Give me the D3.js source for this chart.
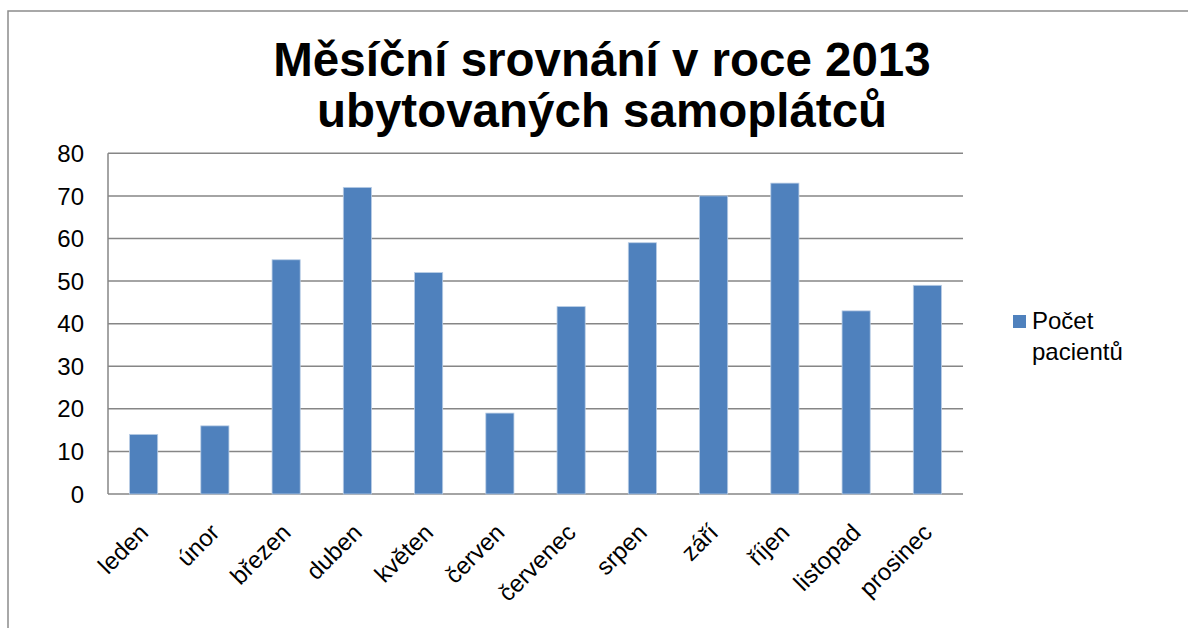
<!DOCTYPE html>
<html><head><meta charset="utf-8">
<script src="https://cdn.jsdelivr.net/npm/d3@7"></script>
<style>body{margin:0;background:#fff}svg{display:block;font-family:"Liberation Sans",Arial,sans-serif}</style>
</head><body>
<svg id="c" width="1188" height="628"></svg>
<script>
const categories = ["leden","únor","březen","duben","květen","červen","červenec","srpen","září","říjen","listopad","prosinec"];
const values = [14,16,55,72,52,19,44,59,70,73,43,49];
const yTicks = [0,10,20,30,40,50,60,70,80];
const titleLines = ["Měsíční srovnání v roce 2013","ubytovaných samoplátců"];
const seriesName = ["Počet","pacientů"];

const svg = d3.select("#c");
svg.append("rect").attr("x",8).attr("y",11).attr("width",1200).attr("height",640)
  .attr("fill","#fff").attr("stroke","#8c8c8c").attr("stroke-width",1.5);

const m = {l:108, r:963, t:153.3, b:494};
const x = d3.scaleBand().domain(categories).range([m.l,m.r]).paddingInner(0.605).paddingOuter(0.3025);
const y = d3.scaleLinear().domain([0,80]).range([m.b,m.t]);

// gridlines
svg.append("g").selectAll("line").data(yTicks).join("line")
  .attr("x1",m.l).attr("x2",m.r).attr("y1",d=>y(d)).attr("y2",d=>y(d))
  .attr("stroke","#868686").attr("stroke-width",1.5);
// y axis line
svg.append("line").attr("x1",m.l).attr("x2",m.l).attr("y1",m.t).attr("y2",m.b)
  .attr("stroke","#868686").attr("stroke-width",1.5);

// y labels
svg.append("g").selectAll("text").data(yTicks).join("text")
  .attr("x",84).attr("y",d=>y(d)).attr("dy","0.36em").attr("text-anchor","end")
  .attr("font-size",24).attr("fill","#000").text(d=>d);

// bars
svg.append("g").selectAll("rect").data(values).join("rect")
  .attr("x",(d,i)=>x(categories[i])).attr("width",x.bandwidth())
  .attr("y",d=>y(d)).attr("height",d=>y(0)-y(d))
  .attr("fill","#4F81BD").attr("stroke","#b9cde5").attr("stroke-width",0.8);

// x labels
svg.append("g").selectAll("text").data(categories).join("text")
  .attr("transform",d=>`translate(${x(d)+x.bandwidth()/2+6},${m.b+40}) rotate(-45)`)
  .attr("text-anchor","end").attr("font-size",24).attr("fill","#000").text(d=>d);

// title
svg.append("g").selectAll("text").data(titleLines).join("text")
  .attr("x",602).attr("y",(d,i)=>76+i*51).attr("text-anchor","middle")
  .attr("font-size",47.5).attr("font-weight","bold").attr("fill","#000").text(d=>d);

// legend
svg.append("rect").attr("x",1013).attr("y",315).attr("width",13).attr("height",13).attr("fill","#4F81BD");
svg.append("g").selectAll("text").data(seriesName).join("text")
  .attr("x",1032).attr("y",(d,i)=>329+i*31).attr("font-size",24).attr("fill","#000").text(d=>d);
</script>
</body></html>
